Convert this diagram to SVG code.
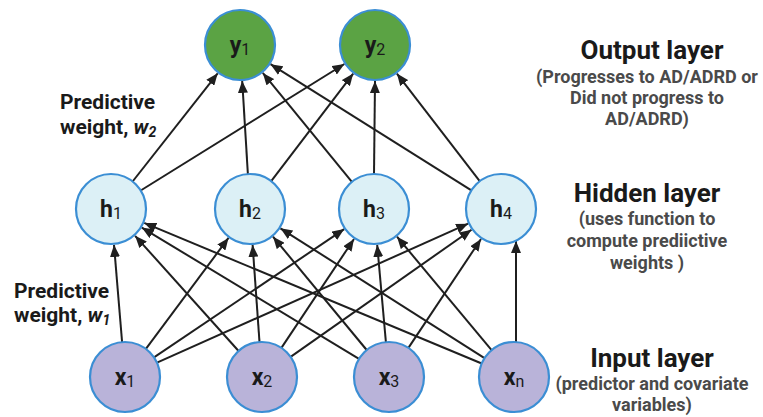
<svg xmlns="http://www.w3.org/2000/svg" width="763" height="417" viewBox="0 0 763 417">
<defs>
<marker id="ah" markerWidth="12" markerHeight="10" refX="12" refY="5" orient="auto" markerUnits="userSpaceOnUse">
<path d="M0,0 L12,5 L0,10 z" fill="#1f1f1f"/>
</marker>
<style>
.e{stroke:#1f1f1f;stroke-width:2;fill:none;marker-end:url(#ah)}
.n{stroke:#3b8ed4;stroke-width:2.2}
.out{fill:#5ba344}
.hid{fill:#dcf0f6}
.inp{fill:#b9b3d9}
.lbl{font-family:Roboto,"Liberation Sans",sans-serif;font-size:23px;font-weight:bold;fill:#1a1a1a;text-anchor:middle}
.sub{font-size:16px;font-weight:normal}
.ttl{font-family:Roboto,"Liberation Sans",sans-serif;font-size:26px;font-weight:bold;fill:#1a1a1a;text-anchor:middle}
.st{font-family:Roboto,"Liberation Sans",sans-serif;font-size:18px;font-weight:bold;fill:#4a4a4a;text-anchor:middle}
.pw{font-family:Roboto,"Liberation Sans",sans-serif;font-size:21px;font-weight:bold;fill:#1a1a1a}
</style>
</defs>
<rect width="763" height="417" fill="#ffffff"/>
<g id="connectors">
<line class="e" x1="122.1" y1="342.1" x2="114.0" y2="244.9"/>
<line class="e" x1="145.9" y1="348.9" x2="228.5" y2="237.9"/>
<line class="e" x1="154.0" y1="357.4" x2="344.2" y2="229.1"/>
<line class="e" x1="157.0" y1="362.7" x2="468.1" y2="223.7"/>
<line class="e" x1="238.6" y1="351.0" x2="135.1" y2="235.8"/>
<line class="e" x1="259.5" y1="342.1" x2="252.6" y2="244.9"/>
<line class="e" x1="281.4" y1="347.9" x2="354.0" y2="239.0"/>
<line class="e" x1="290.6" y1="356.9" x2="471.5" y2="229.7"/>
<line class="e" x1="359.0" y1="358.9" x2="141.8" y2="227.6"/>
<line class="e" x1="366.7" y1="350.0" x2="273.0" y2="236.7"/>
<line class="e" x1="385.9" y1="342.1" x2="377.2" y2="244.9"/>
<line class="e" x1="408.4" y1="347.9" x2="481.0" y2="239.0"/>
<line class="e" x1="481.7" y1="363.5" x2="144.2" y2="222.9"/>
<line class="e" x1="484.5" y1="358.2" x2="280.4" y2="228.3"/>
<line class="e" x1="491.6" y1="350.1" x2="397.0" y2="236.7"/>
<line class="e" x1="516" y1="342.5" x2="516" y2="241"/>
<line class="e" x1="132.6" y1="181.5" x2="217.7" y2="73.3"/>
<line class="e" x1="140.7" y1="190.5" x2="344.4" y2="64.0"/>
<line class="e" x1="247.9" y1="174.1" x2="242.2" y2="80.9"/>
<line class="e" x1="271.2" y1="181.2" x2="353.2" y2="73.6"/>
<line class="e" x1="351.9" y1="181.9" x2="262.8" y2="72.9"/>
<line class="e" x1="374" y1="174" x2="375" y2="81"/>
<line class="e" x1="471.4" y1="190.4" x2="270.5" y2="64.2"/>
<line class="e" x1="479.7" y1="181.2" x2="396.9" y2="73.6"/>
</g>
<g id="y1"><circle class="n out" cx="240" cy="45" r="35"/><text class="lbl" x="240" y="53">y<tspan class="sub" dy="2">1</tspan></text></g>
<g id="y2"><circle class="n out" cx="375" cy="45" r="35"/><text class="lbl" x="375" y="53">y<tspan class="sub" dy="2">2</tspan></text></g>
<g id="h1"><circle class="n hid" cx="111" cy="209" r="35"/><text class="lbl" x="111" y="217">h<tspan class="sub" dy="2">1</tspan></text></g>
<g id="h2"><circle class="n hid" cx="250" cy="209" r="35"/><text class="lbl" x="250" y="217">h<tspan class="sub" dy="2">2</tspan></text></g>
<g id="h3"><circle class="n hid" cx="374" cy="209" r="35"/><text class="lbl" x="374" y="217">h<tspan class="sub" dy="2">3</tspan></text></g>
<g id="h4"><circle class="n hid" cx="501" cy="209" r="35"/><text class="lbl" x="501" y="217">h<tspan class="sub" dy="2">4</tspan></text></g>
<g id="x1"><circle class="n inp" cx="125" cy="377" r="35"/><text class="lbl" x="125" y="385">x<tspan class="sub" dy="2">1</tspan></text></g>
<g id="x2"><circle class="n inp" cx="262" cy="377" r="35"/><text class="lbl" x="262" y="385">x<tspan class="sub" dy="2">2</tspan></text></g>
<g id="x3"><circle class="n inp" cx="389" cy="377" r="35"/><text class="lbl" x="389" y="385">x<tspan class="sub" dy="2">3</tspan></text></g>
<g id="xn"><circle class="n inp" cx="514" cy="377" r="35"/><text class="lbl" x="514" y="385">x<tspan class="sub" dy="2">n</tspan></text></g>
<g id="labels">
<text class="ttl" x="652" y="59" font-size="27">Output layer</text>
<text class="st" x="647" y="83">(Progresses to AD/ADRD or</text>
<text class="st" x="647" y="104">Did not progress to</text>
<text class="st" x="647" y="125">AD/ADRD)</text>
<text class="ttl" x="647" y="202">Hidden layer</text>
<text class="st" x="647" y="225">(uses function to</text>
<text class="st" x="647" y="247">compute prediictive</text>
<text class="st" x="647" y="269">weights )</text>
<text class="ttl" x="652" y="367">Input layer</text>
<text class="st" x="652" y="390">(predictor and covariate</text>
<text class="st" x="652" y="411">variables)</text>
<text class="pw" x="60" y="109">Predictive</text>
<text class="pw" x="60" y="134">weight, <tspan font-style="italic">w</tspan><tspan font-style="italic" font-size="14" dy="3">2</tspan></text>
<text class="pw" x="14" y="298">Predictive</text>
<text class="pw" x="14" y="322">weight, <tspan font-style="italic">w</tspan><tspan font-style="italic" font-size="14" dy="3">1</tspan></text>
</g>
</svg>
